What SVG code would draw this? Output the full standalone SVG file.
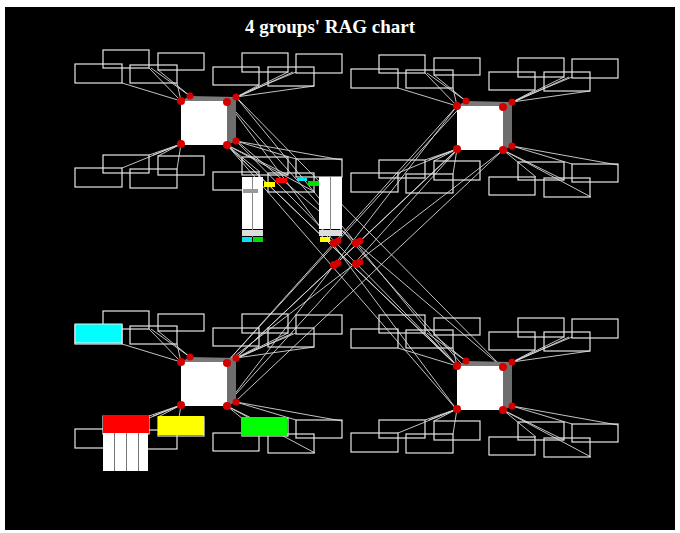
<svg xmlns="http://www.w3.org/2000/svg" xmlns:xlink="http://www.w3.org/1999/xlink" width="680" height="533" viewBox="0 0 680 533">
<style>
.bx{fill:none;stroke:#e6e6e6;stroke-width:1.2}
.ln{stroke:#d8d8d8;stroke-width:0.9;fill:none}
.sp{fill:#d40000}
.face{fill:#ffffff}
.side{fill:#6e6e6e}
.top{fill:#7a7a7a}
.title{font-family:"Liberation Serif",serif;font-size:19px;fill:#ffffff;font-weight:bold}
</style>
<defs>
<g id="rectset">
<rect class="bx" x="-106" y="-37" width="47" height="19"/>
<rect class="bx" x="-78" y="-51" width="46" height="18"/>
<rect class="bx" x="-51" y="-36" width="47" height="18"/>
<rect class="bx" x="-23" y="-48" width="46" height="17"/>
<rect class="bx" x="32" y="-34" width="46" height="18"/>
<rect class="bx" x="61" y="-48" width="46" height="19"/>
<rect class="bx" x="87" y="-34" width="46" height="19"/>
<rect class="bx" x="115" y="-47" width="46" height="19"/>
<rect class="bx" x="-78" y="54" width="46" height="18"/>
<rect class="bx" x="-106" y="67" width="47" height="19"/>
<rect class="bx" x="-23" y="55" width="46" height="19"/>
<rect class="bx" x="-51" y="68" width="47" height="19"/>
<rect class="bx" x="61" y="56" width="46" height="18"/>
<rect class="bx" x="32" y="71" width="46" height="18"/>
<rect class="bx" x="115" y="58" width="46" height="18"/>
<rect class="bx" x="87" y="72" width="46" height="19"/>
</g>
<g id="fan">
<path class="ln" d="M0,0L-59,-18M0,0L-32,-33M0,0L-4,-18M9,-5L-23,-31M9,-5L-30,-33"/>
<path class="ln" d="M46,1L78,-16M46,1L107,-29M55,-4L115,-29M55,-4L133,-15M46,1L112,-29"/>
<path class="ln" d="M0,43L-59,67M0,43L-32,54M0,43L-4,68M0,43L-23,55M0,43L-28,54"/>
<path class="ln" d="M46,44L79,71M55,40L161,59M55,40L115,58M46,44L134,91M46,44L107,74"/>
</g>
<g id="cube">
<polygon class="top" points="0,0 9,-5 55,-4 46,0"/>
<polygon class="side" points="46,0 55,-4 55,40 46,44"/>
<rect class="face" x="0" y="0" width="46" height="44"/>
<circle class="sp" cx="9" cy="-5" r="3.5"/>
<circle class="sp" cx="55" cy="-4" r="3.5"/>
<circle class="sp" cx="55" cy="40" r="3.5"/>
<circle class="sp" cx="0" cy="0" r="4"/>
<circle class="sp" cx="46" cy="1" r="4"/>
<circle class="sp" cx="0" cy="43" r="4"/>
<circle class="sp" cx="46" cy="44" r="4"/>
</g>
</defs>
<rect x="0" y="0" width="680" height="533" fill="#ffffff"/>
<rect x="5" y="7" width="670" height="523" fill="#000000"/>
<text class="title" x="330" y="33" text-anchor="middle">4 groups' RAG chart</text>

<g id="connectors">
<use href="#fan" transform="translate(181,101)"/>
<use href="#fan" transform="translate(457,106)"/>
<use href="#fan" transform="translate(181,362)"/>
<use href="#fan" transform="translate(457,366)"/>
<path class="ln" d="M236,97L457,366M227,102L457,410M227,145L457,366M237,141L503,368M227,145L503,410M227,145L457,410M236,141L457,366M227,102L503,410M236,97L503,368"/>
<path class="ln" d="M457,106L227,362M457,150L227,404M503,150L237,400M457,150L236,358M466,101L227,362M227,362L503,150M236,358L503,106M227,404L457,106"/>
</g>

<g id="group1">
<use href="#rectset" transform="translate(181,101)"/>
<g id="bars1">
<rect x="242" y="177" width="21" height="52" fill="#ffffff"/>
<line x1="252.5" y1="177" x2="252.5" y2="237" stroke="#888" stroke-width="1"/>
<rect x="242" y="230" width="21" height="6" fill="#dddddd"/>
<rect x="242" y="237" width="10" height="5" fill="#00e5ee"/>
<rect x="253" y="237" width="10" height="5" fill="#00e000"/>
<rect x="243" y="189" width="15" height="4" fill="#999999"/>
<rect x="264" y="182" width="11" height="5" fill="#ffff00"/>
<rect x="276" y="178" width="11" height="5" fill="#ff0000"/>
<rect x="297" y="178" width="10" height="3" fill="#00e5ee"/>
<rect x="308" y="181" width="11" height="5" fill="#00e000"/>
<rect x="319" y="177" width="23" height="52" fill="#ffffff"/>
<line x1="330.5" y1="177" x2="330.5" y2="237" stroke="#888" stroke-width="1"/>
<rect x="319" y="230" width="23" height="6" fill="#dddddd"/>
<rect x="320" y="237" width="10" height="5" fill="#ffff00"/>
</g>
<use href="#cube" transform="translate(181,101)"/>
</g>

<g id="group2">
<use href="#rectset" transform="translate(457,106)"/>
<use href="#cube" transform="translate(457,106)"/>
</g>

<g id="group3">
<use href="#rectset" transform="translate(181,362)"/>
<rect x="75" y="324" width="47" height="19" fill="#00ffff" stroke="#eeeeee" stroke-width="1"/>
<rect x="103" y="415" width="46" height="18" fill="#ff0000"/>
<rect x="158" y="416" width="46" height="19" fill="#ffff00"/>
<rect x="241" y="417" width="46" height="19" fill="#00ff00"/>
<rect x="103" y="433" width="45" height="38" fill="#ffffff"/>
<path d="M114.5,433V471M126.5,433V471M138.5,433V471" stroke="#777" stroke-width="1"/>
<use href="#cube" transform="translate(181,362)"/>
</g>

<g id="group4">
<use href="#rectset" transform="translate(457,366)"/>
<use href="#cube" transform="translate(457,366)"/>
</g>

<g id="junctions">
<circle class="sp" cx="338" cy="241" r="3.5"/>
<circle class="sp" cx="334" cy="243" r="4"/>
<circle class="sp" cx="360" cy="241" r="3.5"/>
<circle class="sp" cx="356" cy="243" r="4"/>
<circle class="sp" cx="338" cy="263" r="3.5"/>
<circle class="sp" cx="334" cy="265" r="4"/>
<circle class="sp" cx="360" cy="262" r="3.5"/>
<circle class="sp" cx="356" cy="264" r="4"/>
</g>
</svg>
